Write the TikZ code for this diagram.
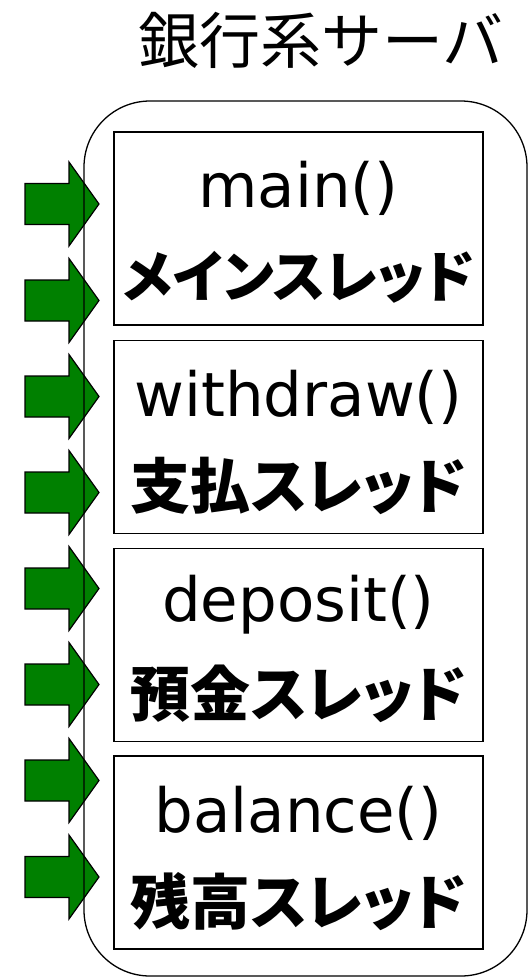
\documentclass[tikz,border=0pt]{standalone}
\usepackage{fontspec}
\setmainfont{DejaVu Sans}
\newfontfamily\cjk{Noto Sans CJK JP}
\newfontfamily\cjkp[RawFeature=+palt]{Noto Sans CJK JP}
\definecolor{arrowgreen}{RGB}{0,128,0}
\tikzset{
  titletext/.style={font=\cjk\fontsize{61}{70}\selectfont, inner sep=0pt},
  outerbox/.style={draw, line width=1.3pt, rounded corners=66pt, minimum width=443pt, minimum height=875pt, inner sep=0pt},
  threadbox/.style={draw, line width=1.5pt, fill=white, minimum width=369pt, minimum height=193pt, inner sep=0pt},
  methodtext/.style={font=\fontsize{61}{70}\selectfont, inner sep=0pt},
  threadtext/.style={font=\cjkp\bfseries\fontsize{60}{70}\selectfont, inner sep=0pt},
  garrow/.style={fill=arrowgreen, draw=black, line width=1.2pt, line join=miter}
}
\begin{document}
\begin{tikzpicture}[x=1pt,y=-1pt]
\useasboundingbox (0,0) rectangle (531,978);
\node[titletext] (title) at (321,40) {銀行系サーバ};
% arrows
\foreach \n/\y in {1/204,2/300.5,3/396.5,4/492.5,5/588.5,6/684.5,7/780.5,8/877}{
  \filldraw[garrow] (25,\y-20.5) -- (69,\y-20.5) -- (69,\y-42) -- (99,\y) -- (69,\y+42) -- (69,\y+20.5) -- (25,\y+20.5) -- cycle;
}
\node[outerbox] (server) at (305.5,538.5) {};
\node[threadbox] (b1) at (298.5,228.5) {};
\node[threadbox] (b2) at (298.5,437) {};
\node[threadbox] (b3) at (298.5,645) {};
\node[threadbox] (b4) at (298.5,852.5) {};
\node[methodtext] (m1) at (298.5,188) {main()};
\node[methodtext] (m2) at (298.5,397) {withdraw()};
\node[methodtext] (m3) at (298.5,605) {deposit()};
\node[methodtext] (m4) at (298.5,813) {balance()};
\node[threadtext, font=\cjkp\bfseries\fontsize{56}{70}\selectfont] (t1) at (298.5,277) {メインスレッド};
\node[threadtext] (t2) at (298.5,486) {支払スレッド};
\node[threadtext] (t3) at (298.5,694) {預金スレッド};
\node[threadtext] (t4) at (298.5,902) {残高スレッド};
\end{tikzpicture}
\end{document}
